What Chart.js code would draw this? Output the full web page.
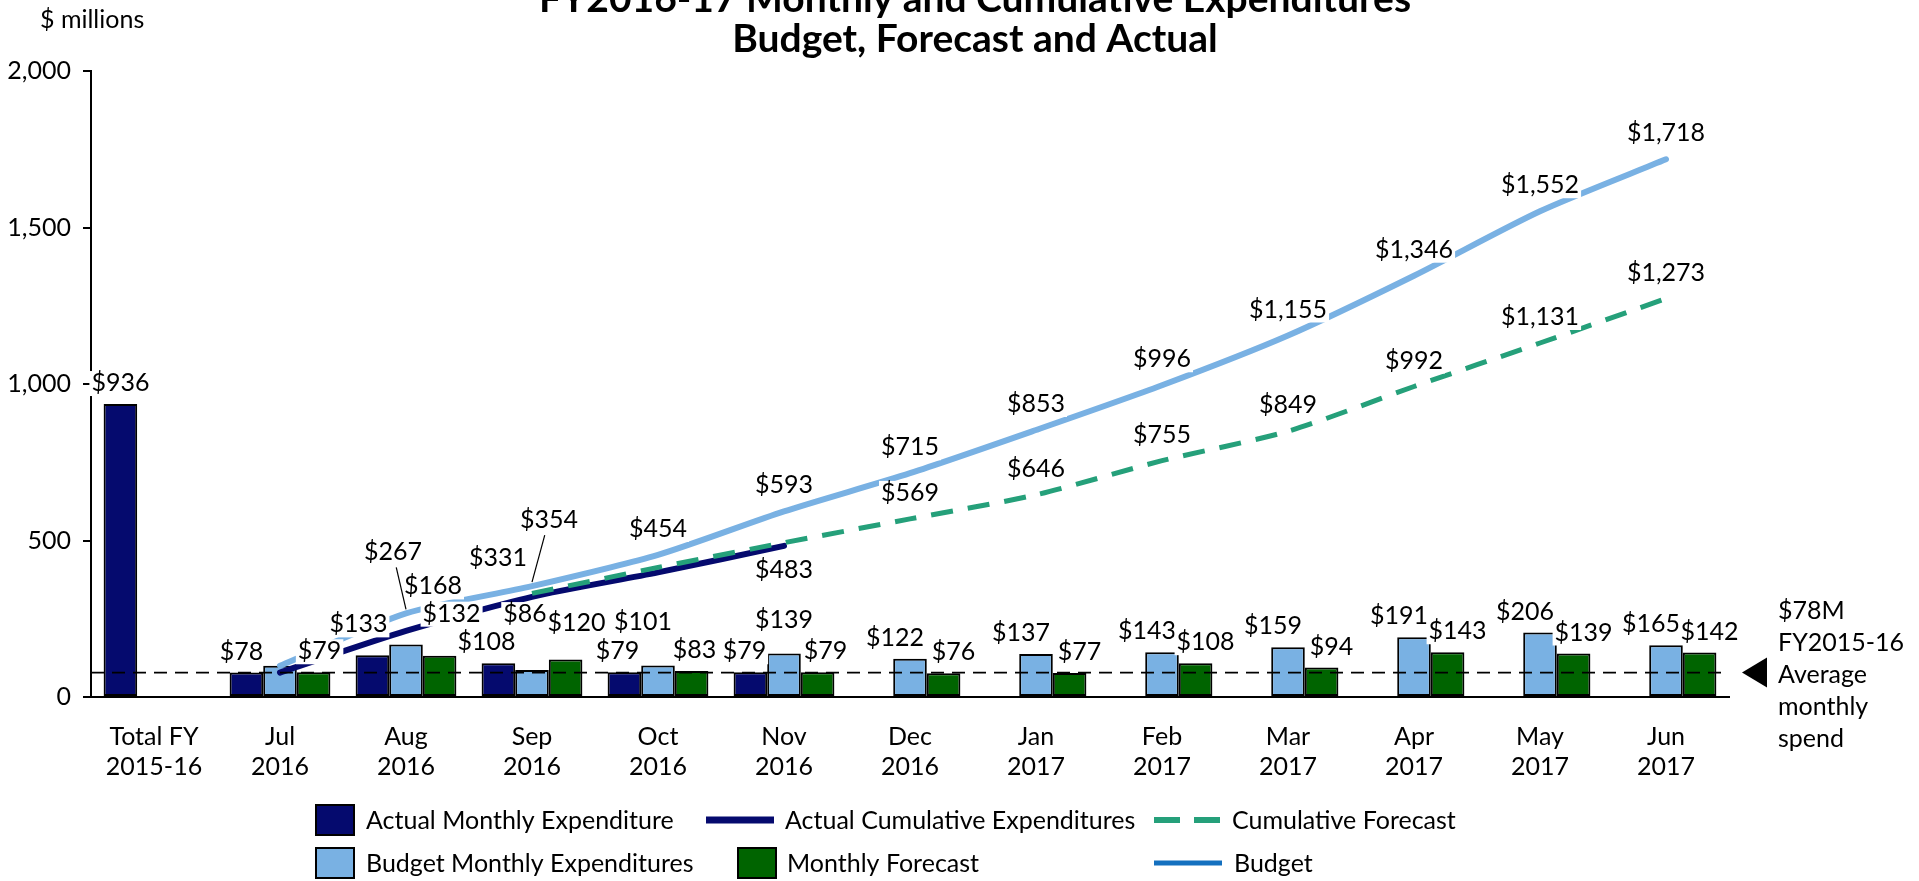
<!DOCTYPE html>
<html>
<head>
<meta charset="utf-8">
<title>FY2016-17 Monthly and Cumulative Expenditures</title>
<script src="https://cdn.jsdelivr.net/npm/chart.js@4.4.1/dist/chart.umd.min.js"></script>
<style>
  html, body { margin: 0; padding: 0; background: #fff; }
  #wrap { position: relative; width: 1919px; height: 881px; }
</style>
</head>
<body>
<div id="wrap"><canvas id="expChart"></canvas></div>
<script>
// $ millions, Total FY 2015-16 then each month of FY2016-17
const categories = [
  ["Total FY", "2015-16"], ["Jul", "2016"], ["Aug", "2016"], ["Sep", "2016"],
  ["Oct", "2016"], ["Nov", "2016"], ["Dec", "2016"], ["Jan", "2017"],
  ["Feb", "2017"], ["Mar", "2017"], ["Apr", "2017"], ["May", "2017"], ["Jun", "2017"]
];
const actualMonthly = [936, 78, 133, 108, 79, 79, null, null, null, null, null, null, null];
const budgetMonthly = [null, 100, 168, 86, 101, 139, 122, 137, 143, 159, 191, 206, 165];
const forecastMonthly = [null, 79, 132, 120, 83, 79, 76, 77, 108, 94, 143, 139, 142];
const actualCumulative = [null, 78, 211, 320, 398, 483, null, null, null, null, null, null, null];
const forecastCumulative = [null, null, null, 331, 414, 493, 569, 646, 755, 849, 992, 1131, 1273];
const budgetCumulative = [null, 100, 267, 354, 454, 593, 715, 853, 996, 1155, 1346, 1552, 1718];
const avgMonthlyPriorYear = 78;
const yTickValues = [0, 500, 1000, 1500, 2000];

const FONT = "Lato, 'Open Sans', sans-serif";
const NAVY = "#050a6e";
const LIGHT_BLUE = "#79b1e3";
const GREEN = "#006400";
const TEAL = "#25a07a";
const LEGEND_BLUE = "#1470bf";

// hand placed label shifts (dx, dy) where the default spot collides
const labelNudge = {
  actual: { 1: [-5, 0], 2: [-14, -10], 3: [-12, 0], 4: [-7, 0], 5: [-6, 0] },
  budget: { 2: [27, -37], 3: [-7, -35], 4: [-15, -22], 5: [0, -13] },
  forecast: { 1: [6, 0], 2: [12, -21], 3: [11, -16], 4: [3, 0], 5: [8, 0] },
  budgetCum: { 2: [-13, -35], 3: [17, -40] },
  forecastCum: { 3: [-34, -9] },
  actualCum: { 5: [0, 50] }
};

function money(v) {
  return "$" + v.toLocaleString("en-US");
}

function boxedText(ctx, text, x, y) {
  const w = ctx.measureText(text).width;
  ctx.fillStyle = "#fff";
  ctx.fillRect(x - w / 2 - 2, y - 12, w + 4, 25);
  ctx.fillStyle = "#000";
  ctx.fillText(text, x, y);
}

const overlay = {
  id: "overlay",
  afterDatasetsDraw(chart) {
    const { ctx, chartArea } = chart;
    const yScale = chart.scales.y;
    ctx.save();

    // FY2015-16 average monthly spend reference
    const yAvg = yScale.getPixelForValue(avgMonthlyPriorYear);
    ctx.strokeStyle = "#000";
    ctx.lineWidth = 1.6;
    ctx.setLineDash([13, 8]);
    ctx.beginPath();
    ctx.moveTo(chartArea.left, yAvg);
    ctx.lineTo(chartArea.right, yAvg);
    ctx.stroke();
    ctx.setLineDash([]);

    // data labels, white boxed so they cut the lines behind them
    ctx.font = "25px " + FONT;
    ctx.textAlign = "center";
    ctx.textBaseline = "middle";
    chart.data.datasets.forEach((ds, di) => {
      const meta = chart.getDatasetMeta(di);
      const nudges = labelNudge[ds.key] || {};
      ds.data.forEach((v, i) => {
        if (v == null) return;
        if (ds.labelOnly && !ds.labelOnly.includes(i)) return;
        if (ds.labelSkip && ds.labelSkip.includes(i)) return;
        const el = meta.data[i];
        let dx = 0;
        let dy = ds.type === "bar" ? -21 : -26;
        if (ds.type === "bar" && actualMonthly[i] == null) dx = ds.key === "budget" ? -15 : 10;
        const n = nudges[i];
        if (n) { dx += n[0]; dy += n[1]; }
        const lx = el.x + dx;
        const ly = el.y + dy;
        if (ds.leaderAt && ds.leaderAt.includes(i)) {
          ctx.strokeStyle = "#000";
          ctx.lineWidth = 1.2;
          ctx.beginPath();
          ctx.moveTo(lx + (el.x - lx) * 0.25, ly + 15);
          ctx.lineTo(el.x, el.y - 4);
          ctx.stroke();
        }
        boxedText(ctx, money(v), lx, ly);
      });
    });

    // note on the right of the average line
    ctx.fillStyle = "#000";
    ctx.beginPath();
    ctx.moveTo(1742, yAvg);
    ctx.lineTo(1767, yAvg - 15);
    ctx.lineTo(1767, yAvg + 15);
    ctx.closePath();
    ctx.fill();
    ctx.textAlign = "left";
    ["$78M", "FY2015-16", "Average", "monthly", "spend"].forEach((t, k) => {
      ctx.fillText(t, 1778, yAvg - 62 + k * 32);
    });

    // unit and title
    ctx.fillText("$ millions", 40, 20);
    ctx.font = "bold 39px " + FONT;
    ctx.textAlign = "center";
    ctx.fillText("FY2016-17 Monthly and Cumulative Expenditures", 975, -1);
    ctx.fillText("Budget, Forecast and Actual", 975, 39);

    // legend
    ctx.font = "25px " + FONT;
    ctx.textAlign = "left";
    const swatch = (x, y, color) => {
      ctx.fillStyle = color;
      ctx.fillRect(x, y - 15, 38, 30);
      ctx.strokeStyle = "#000";
      ctx.lineWidth = 2;
      ctx.strokeRect(x, y - 15, 38, 30);
    };
    const stroke = (x, y, color, width, dash) => {
      ctx.strokeStyle = color;
      ctx.lineWidth = width;
      ctx.setLineDash(dash);
      ctx.beginPath();
      ctx.moveTo(x, y);
      ctx.lineTo(x + 68, y);
      ctx.stroke();
      ctx.setLineDash([]);
    };
    const text = (t, x, y) => { ctx.fillStyle = "#000"; ctx.fillText(t, x, y); };
    swatch(316, 820, NAVY); text("Actual Monthly Expenditure", 366, 821);
    stroke(706, 820, NAVY, 7, []); text("Actual Cumulative Expenditures", 785, 821);
    stroke(1154, 820, TEAL, 6, [26, 14]); text("Cumulative Forecast", 1232, 821);
    swatch(316, 863, LIGHT_BLUE); text("Budget Monthly Expenditures", 366, 864);
    swatch(738, 863, GREEN); text("Monthly Forecast", 787, 864);
    stroke(1154, 863, LEGEND_BLUE, 5, []); text("Budget", 1234, 864);

    ctx.restore();
  }
};

const barStyle = {
  type: "bar",
  borderColor: "#000",
  borderWidth: 2,
  borderSkipped: false,
  categoryPercentage: 0.8,
  barPercentage: 1,
  order: 3
};

const lineStyle = {
  type: "line",
  pointRadius: 0,
  tension: 0.25,
  borderCapStyle: "round",
  fill: false
};

new Chart(document.getElementById("expChart"), {
  data: {
    labels: categories,
    datasets: [
      { ...barStyle, key: "actual", label: "Actual Monthly Expenditure", data: actualMonthly, backgroundColor: NAVY },
      { ...barStyle, key: "budget", label: "Budget Monthly Expenditures", data: budgetMonthly, backgroundColor: LIGHT_BLUE, labelSkip: [1] },
      { ...barStyle, key: "forecast", label: "Monthly Forecast", data: forecastMonthly, backgroundColor: GREEN },
      { ...lineStyle, key: "budgetCum", label: "Budget", data: budgetCumulative, borderColor: LIGHT_BLUE, borderWidth: 6, order: 2,
        labelOnly: [2, 3, 4, 5, 6, 7, 8, 9, 10, 11, 12], leaderAt: [2, 3] },
      { ...lineStyle, key: "actualCum", label: "Actual Cumulative Expenditures", data: actualCumulative, borderColor: NAVY, borderWidth: 6, order: 1,
        labelOnly: [5] },
      { ...lineStyle, key: "forecastCum", label: "Cumulative Forecast", data: forecastCumulative, borderColor: TEAL, borderWidth: 5,
        borderDash: [22, 15], borderCapStyle: "butt", order: 0, labelOnly: [3, 6, 7, 8, 9, 10, 11, 12] }
    ]
  },
  options: {
    responsive: true,
    maintainAspectRatio: false,
    animation: false,
    layout: { padding: { top: 71, right: 190, bottom: 0, left: 0 } },
    plugins: {
      legend: { display: false },
      tooltip: { enabled: false },
      title: { display: false }
    },
    scales: {
      x: {
        grid: { display: false, drawTicks: false },
        border: { display: true, color: "#000", width: 2 },
        ticks: {
          color: "#000",
          font: { family: FONT, size: 25, lineHeight: 1.2 },
          padding: 25,
          maxRotation: 0,
          autoSkip: false
        },
        afterFit(scale) { scale.height = 184; }
      },
      y: {
        min: 0,
        max: 2000,
        afterBuildTicks(scale) { scale.ticks = yTickValues.map(v => ({ value: v })); },
        ticks: {
          color: "#000",
          font: { family: FONT, size: 25 },
          padding: 12,
          callback: v => v.toLocaleString("en-US")
        },
        grid: { drawOnChartArea: false, drawTicks: true, tickLength: 8, color: "#000", lineWidth: 2 },
        border: { display: true, color: "#000", width: 2 },
        afterFit(scale) { scale.width = 91; }
      }
    }
  },
  plugins: [overlay]
});
</script>
</body>
</html>
